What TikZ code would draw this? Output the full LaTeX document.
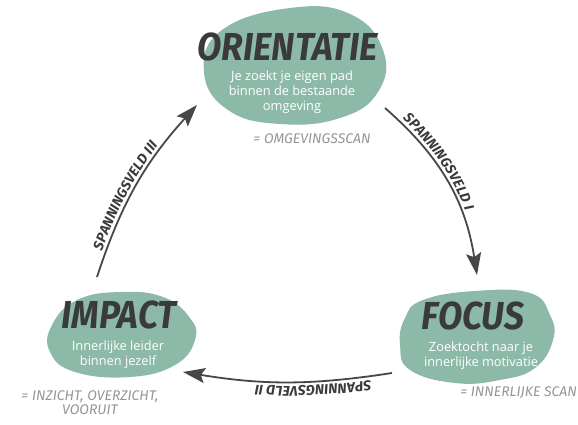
\documentclass[tikz,border=0pt]{standalone}
\usepackage{fontspec}
\setmainfont{Open Sans}
\newfontfamily\brushfont{Fira Sans}
\usetikzlibrary{arrows.meta,decorations.text}
\definecolor{blobgreen}{HTML}{8DBAA8}
\definecolor{darkink}{HTML}{3A3A3A}
\definecolor{arrowink}{HTML}{474747}
\definecolor{labelgrey}{HTML}{959595}
\tikzset{
  blob/.style={fill=blobgreen, draw=none},
  titletext/.style={text=darkink, font=\brushfont\bfseries\itshape\fontsize{30}{30}\selectfont, inner sep=0pt},
  bodytext/.style={text=white, font=\fontsize{12.8}{15}\selectfont, align=center, inner sep=0pt},
  eqlabel/.style={text=labelgrey, font=\brushfont\itshape\fontsize{14}{14}\selectfont, inner sep=0pt},
  cyclearrow/.style={draw=arrowink, line width=1.8pt, -{Stealth[length=22pt,width=15pt,inset=4pt]}},
}
\newcommand{\arcfont}{\brushfont\bfseries\itshape\fontsize{14}{14}\selectfont}
\newcommand{\bigtitle}[1]{\scalebox{1.18}[1.3]{#1}}
\begin{document}
\begin{tikzpicture}[x=1pt,y=1pt]
\useasboundingbox (0,0) rectangle (578,424);
% blobs
\fill[blob] plot[smooth cycle, tension=0.75] coordinates {(290,416) (350,410) (383,374) (378,332) (340,306) (280,300) (228,314) (204,352) (222,394)};
\fill[blob] plot[smooth cycle, tension=0.75] coordinates {(77,124) (120,132) (163,127) (190,106) (195,84) (175,59) (130,47) (75,52) (50,72) (52,99)};
\fill[blob] plot[smooth cycle, tension=0.75] coordinates {(423,124) (475,133) (530,131) (550,109) (553,84) (535,56) (500,44) (455,41) (410,54) (400,79) (405,106)};
% titles
\node[titletext] (orient) at (288,377) {\bigtitle{ORIENTATIE}};
\node[titletext] (impact) at (119,109) {\bigtitle{IMPACT}};
\node[titletext] (focus) at (473,108) {\bigtitle{FOCUS}};
% body texts
\node[bodytext] (orientbody) at (292,332) {Je zoekt je eigen pad\\binnen de bestaande\\omgeving};
\node[bodytext] (impactbody) at (118,69) {Innerlijke leider\\binnen jezelf};
\node[bodytext] (focusbody) at (481,68) {Zoektocht naar je\\innerlijke motivatie};
% equals labels
\node[eqlabel] (omg) at (312,285) {= OMGEVINGSSCAN};
\node[eqlabel, anchor=east] (scan) at (577,31) {= INNERLIJKE SCAN};
\node[eqlabel, align=center] (inz) at (90,21) {= INZICHT, OVERZICHT,\\VOORUIT};
% arrow end points
\coordinate (aIs) at (385,316);
\coordinate (aIe) at (477,149);
\coordinate (aIIs) at (392,51);
\coordinate (aIIe) at (183,52);
\coordinate (aIIIs) at (97,147);
\coordinate (aIIIe) at (197,319);
% arrows
\draw[cyclearrow] (aIs) to[bend left=20] (aIe);
\draw[cyclearrow] (aIIs) to[bend left=9] (aIIe);
\draw[cyclearrow] (aIIIs) to[bend left=12] (aIIIe);
% arrow labels
\path[decorate, decoration={text along path, text color=darkink, raise=4pt,
  text align={left indent=20pt}, text={|\arcfont|SPANNINGSVELD I}}] (aIs) to[bend left=20] (aIe);
\path[decorate, decoration={text along path, text color=darkink, raise=4pt,
  text align={left indent=22pt}, text={|\arcfont|SPANNINGSVELD II}}] (aIIs) to[bend left=9] (aIIe);
\path[decorate, decoration={text along path, text color=darkink, raise=4pt,
  text align={left indent=26pt}, text={|\arcfont|SPANNINGSVELD III}}] (aIIIs) to[bend left=12] (aIIIe);
\end{tikzpicture}
\end{document}
